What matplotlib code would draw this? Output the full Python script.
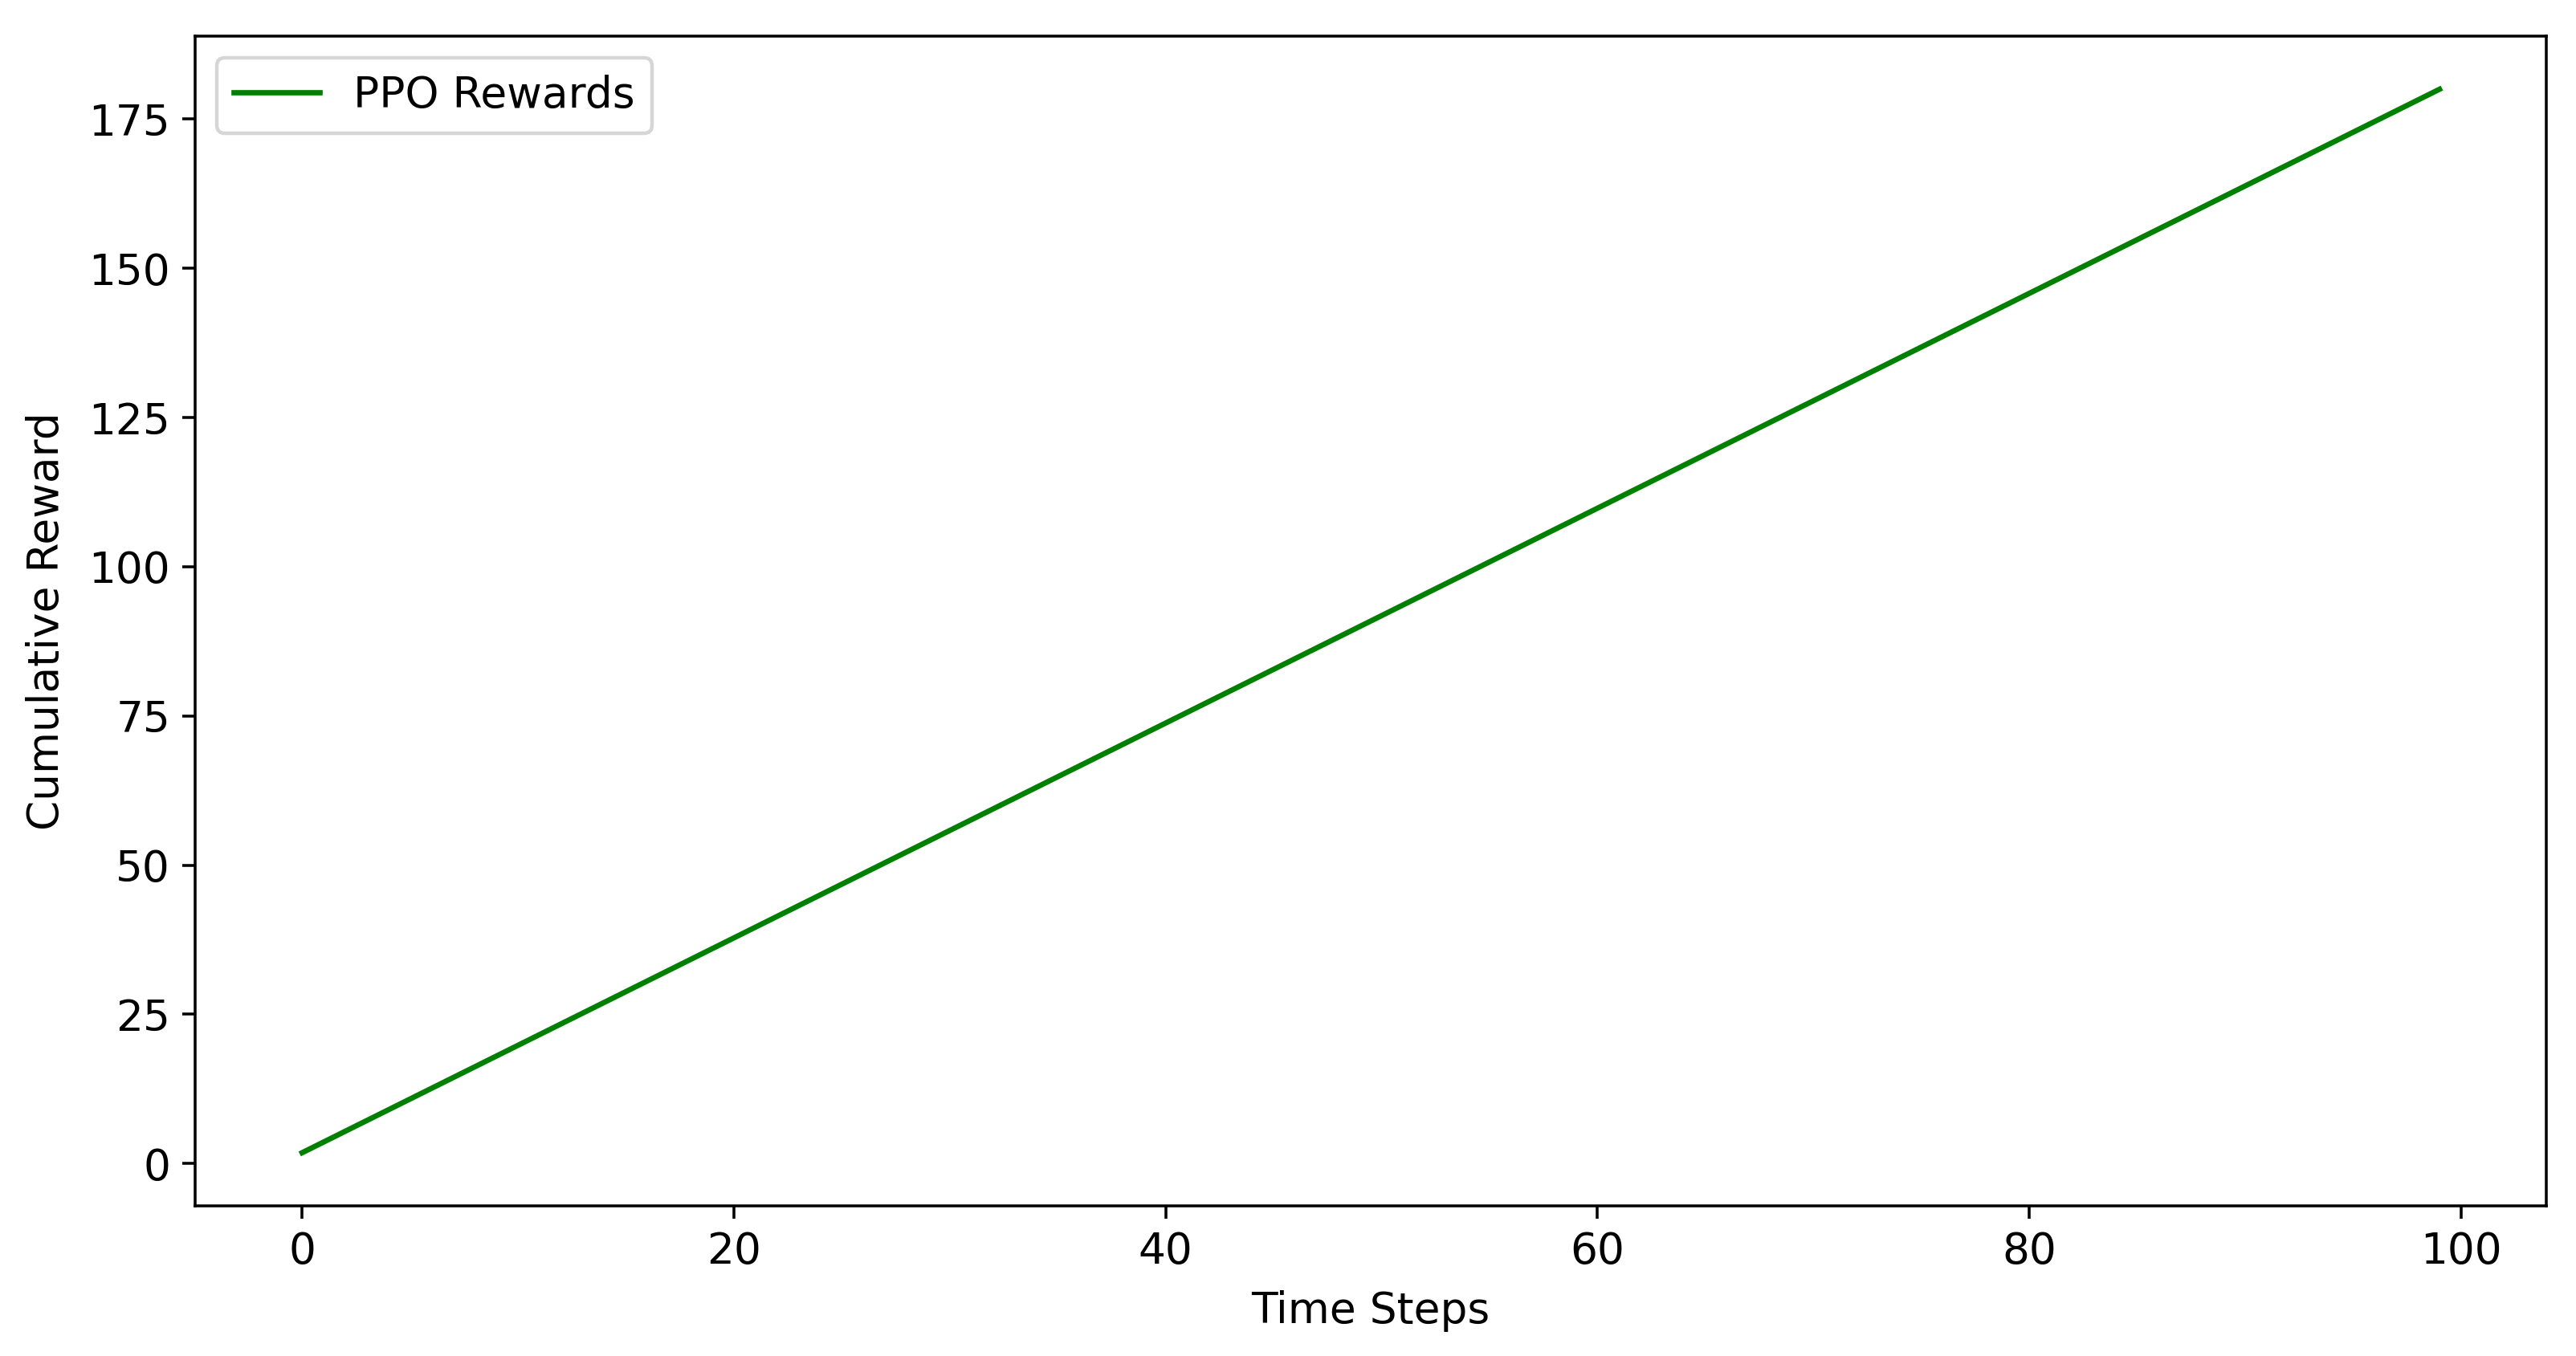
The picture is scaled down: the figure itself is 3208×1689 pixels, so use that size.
import matplotlib
matplotlib.use('Agg')
from matplotlib import pyplot as plt

# Values (cumulative reward per time step).
time_steps = [0, 10, 20, 30, 40, 50, 60, 70, 80, 90, 99]
ppo_rewards = [1.8, 19.8, 37.8, 55.8, 73.8, 91.8, 109.8, 127.8, 145.8, 163.8, 180.0]

def plotRewards():
    dpi = 320
    fig = plt.figure(figsize=(3208 / dpi, 1689 / dpi), dpi=dpi)
    fs = 12
    plt.rcParams['font.size'] = fs

    # Axes placed to match the reference frame.
    ax = fig.add_axes([0.0758, 0.1107, 0.9127, 0.8627])

    ax.plot(time_steps, ppo_rewards, color='green', linewidth=1.5, label='PPO Rewards')

    ax.set_xlabel('Time Steps', fontsize=fs, labelpad=5)
    ax.set_ylabel('Cumulative Reward', fontsize=fs, labelpad=6)
    ax.tick_params(labelsize=fs)
    ax.set_xticks([0, 20, 40, 60, 80, 100])
    ax.set_yticks([0, 25, 50, 75, 100, 125, 150, 175])
    ax.legend(loc='upper left', fontsize=fs)

    fig.savefig('out.png', dpi=dpi)

if __name__ == "__main__":
    plotRewards()
